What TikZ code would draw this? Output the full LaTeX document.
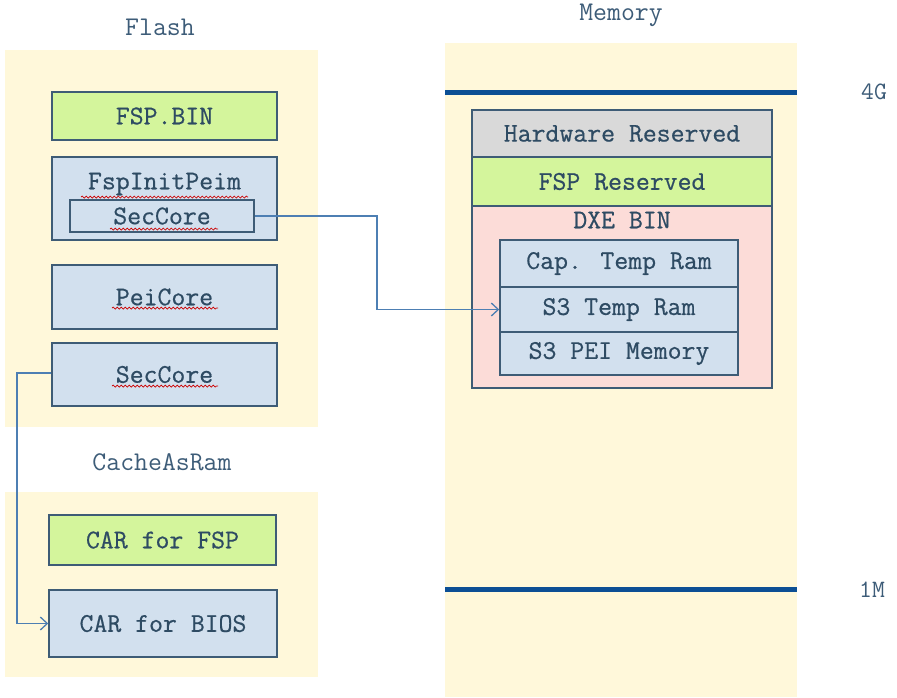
\documentclass[tikz,border=0pt]{standalone}
\usepackage{fontspec}
\newfontfamily\boxfont{Latin Modern Mono}[FakeBold=0.6]
\usetikzlibrary{arrows.meta,decorations.pathmorphing}
\definecolor{panel}{HTML}{FFF8DA}
\definecolor{bluefill}{HTML}{D2E0EE}
\definecolor{greenfill}{HTML}{D4F59C}
\definecolor{grayfill}{HTML}{D9D9D9}
\definecolor{pinkfill}{HTML}{FCDCD8}
\definecolor{edge}{HTML}{3E5C76}
\definecolor{txt}{HTML}{2E4B63}
\definecolor{lbl}{HTML}{3D5C78}
\definecolor{arrowc}{HTML}{4D7FB3}
\definecolor{bar}{HTML}{0C4F94}
\tikzset{
  x=1pt, y=-1pt,
  boxbase/.style={draw=edge, line width=1.5pt, inner sep=0pt, text=txt,
    font=\boxfont\fontsize{27}{27}\selectfont, anchor=center},
  bluebox/.style={boxbase, fill=bluefill},
  greenbox/.style={boxbase, fill=greenfill},
  graybox/.style={boxbase, fill=grayfill},
  pinkbox/.style={boxbase, fill=pinkfill},
  boxtext/.style={inner sep=0pt, text=txt, font=\boxfont\fontsize{27}{27}\selectfont},
  title/.style={inner sep=0pt, text=lbl, font=\ttfamily\fontsize{27}{27}\selectfont},
  marklbl/.style={inner sep=0pt, text=lbl, font=\ttfamily\fontsize{25}{25}\selectfont},
  conn/.style={draw=arrowc, line width=1.3pt, -{Straight Barb[length=7pt,width=13pt,line width=1.3pt]}},
  spell/.style={draw=red!80!black, line width=0.7pt, decorate,
    decoration={snake, amplitude=1pt, segment length=4pt}},
  barline/.style={draw=bar, line width=5pt}
}
\begin{document}
\begin{tikzpicture}
\useasboundingbox (0,0) rectangle (897,697);
% panels
\fill[panel] (5,50) rectangle (318,427);
\fill[panel] (5,492) rectangle (318,677);
\fill[panel] (445,43) rectangle (797,697);
% titles
\node[title] (tflash) at (160,27) {Flash};
\node[title] (tcar) at (162,462) {CacheAsRam};
\node[title] (tmem) at (621,15) {Memory};
% flash boxes
\node[greenbox, minimum width=225pt, minimum height=48pt] (fspbin) at (164.5,116) {FSP.BIN};
\node[bluebox, minimum width=225pt, minimum height=83pt] (fspinit) at (164.5,198.5) {};
\node[boxtext] (fspinittxt) at (164.5,184) {FspInitPeim};
\node[bluebox, minimum width=184pt, minimum height=32pt] (innersec) at (162,216) {SecCore};
\node[bluebox, minimum width=225pt, minimum height=64pt] (peicore) at (164.5,297) {PeiCore};
\node[bluebox, minimum width=225pt, minimum height=63pt] (seccore) at (164.5,374.5) {SecCore};
% spell-check marks
\draw[spell] (81,197) -- (248,197);
\draw[spell] (110,229) -- (218,229);
\draw[spell] (112,308) -- (218,308);
\draw[spell] (112,386) -- (218,386);
% CAR boxes
\node[greenbox, minimum width=227pt, minimum height=50pt] (carfsp) at (162.5,540) {CAR for FSP};
\node[bluebox, minimum width=228pt, minimum height=67pt] (carbios) at (163,623.5) {CAR for BIOS};
% memory map
\draw[barline] (445,92) -- (797,92);
\draw[barline] (445,589) -- (797,589);
\node[marklbl] (l4g) at (874,92) {4G};
\node[marklbl] (l1m) at (872,590) {1M};
\node[graybox, minimum width=300pt, minimum height=47pt] (hw) at (622,133.5) {Hardware Reserved};
\node[greenbox, minimum width=300pt, minimum height=49pt] (fspres) at (622,181.5) {FSP Reserved};
\node[pinkbox, minimum width=300pt, minimum height=182pt] (dxe) at (622,297) {};
\node[boxtext] (dxetxt) at (622,220) {DXE BIN};
\node[bluebox, minimum width=238pt, minimum height=47pt] (cap) at (619,263.5) {Cap. Temp Ram};
\node[bluebox, minimum width=238pt, minimum height=45pt] (s3t) at (619,309.5) {S3 Temp Ram};
\node[bluebox, minimum width=238pt, minimum height=43pt] (s3p) at (619,353.5) {S3 PEI Memory};
% connectors
\coordinate (c1) at (377,216);
\coordinate (c2) at (377,309.5);
\draw[conn] (innersec.east) -- (c1) -- (c2) -- (s3t.west);
\coordinate (d1) at (17,373);
\coordinate (d2) at (17,623.5);
\draw[conn] (seccore.west |- d1) -- (d1) -- (d2) -- (carbios.west);
\end{tikzpicture}
\end{document}
